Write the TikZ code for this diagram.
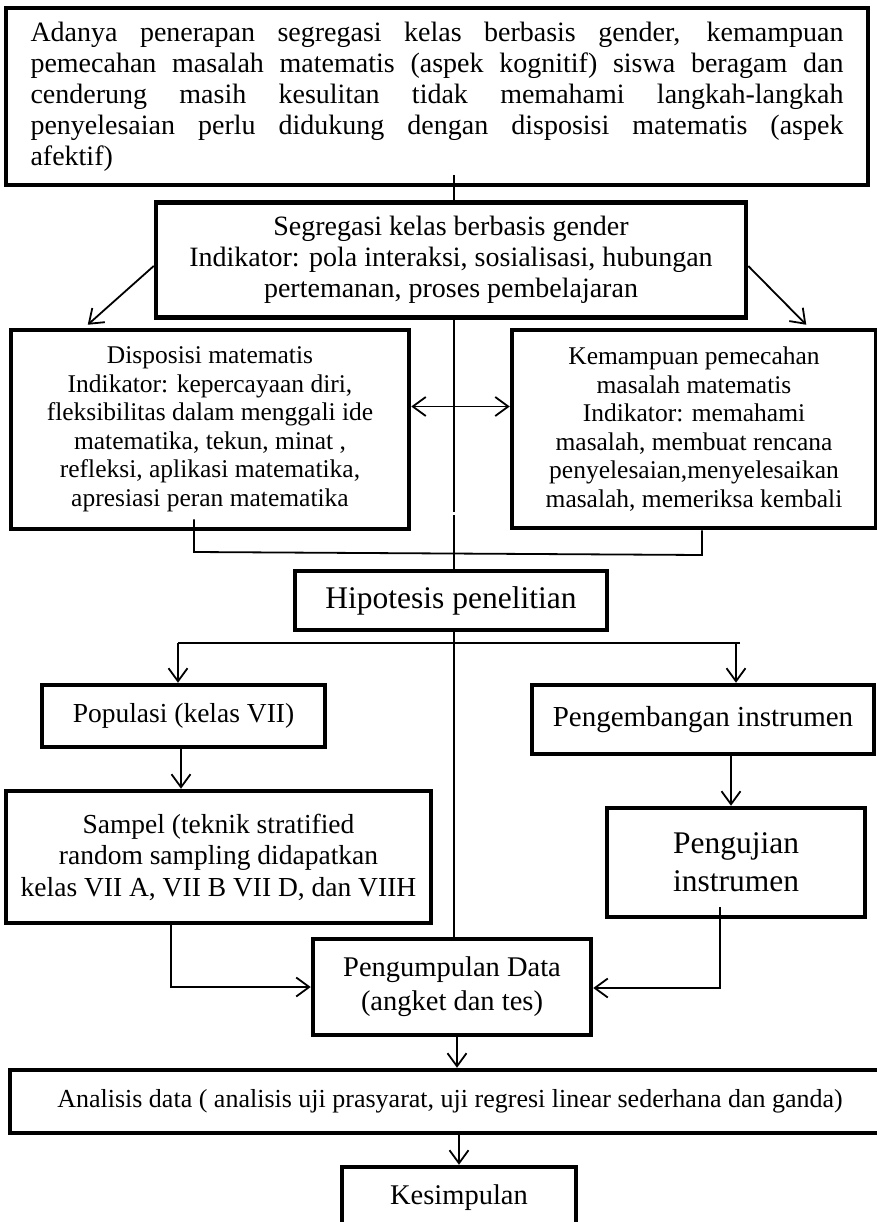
\documentclass[tikz,border=0pt]{standalone}
\usepackage{fontspec}
\setmainfont{Liberation Serif}
\usetikzlibrary{positioning, arrows.meta}

\begin{document}
\begin{tikzpicture}[
        x=1pt, y=-1pt,
        % Styles
        box/.style={% For the thick boxes
            rectangle,
            draw,
            line width=4.5pt,
            inner sep=0pt,
            align=center,
            },
        conn/.style={% Plain connecting lines
            line width=1.8pt,
            },
        arr/.style={% Open arrow heads
            conn,
            -{Straight Barb[length=13pt, width=19pt, line width=1.8pt]},
            },
        arrboth/.style={% Double arrow
            conn,
            {Straight Barb[length=13pt, width=19pt, line width=1.8pt]}-{Straight Barb[length=13pt, width=19pt, line width=1.8pt]},
            },
        big/.style={font=\fontsize{28.5}{31}\selectfont},
        mid/.style={font=\fontsize{28}{31}\selectfont},
        small/.style={font=\fontsize{25.5}{28.5}\selectfont},
        ]
    \useasboundingbox (0,0) rectangle (877,1222);
    \clip (0,0) rectangle (877,1222);

    % Nodes
        % Background problem
        \node [box, font=\fontsize{28}{31}\selectfont, align=justify, text width=813pt, minimum width=862pt, minimum height=177pt] (latar) at (437,96.5)
            {Adanya penerapan segregasi kelas berbasis gender, kemampuan\linebreak
             pemecahan masalah matematis (aspek kognitif) siswa beragam dan\linebreak
             cenderung masih kesulitan tidak memahami langkah-langkah\linebreak
             penyelesaian perlu didukung dengan disposisi matematis (aspek\linebreak
             afektif)};

        % Variables
        \node [box, mid, minimum width=590pt, minimum height=115pt] (segregasi) at (451,260)
            {Segregasi kelas berbasis gender\\Indikator: pola interaksi, sosialisasi, hubungan\\pertemanan, proses pembelajaran};
        \node [box, small, minimum width=398pt, minimum height=199pt] (disposisi) at (210,429.5)
            {Disposisi matematis\\Indikator: kepercayaan diri,\\fleksibilitas dalam menggali ide\\matematika, tekun, minat ,\\refleksi, aplikasi matematika,\\apresiasi peran matematika};
        \node [box, small, minimum width=364pt, minimum height=198pt] (kemampuan) at (694,429)
            {Kemampuan pemecahan\\masalah matematis\\Indikator: memahami\\masalah, membuat rencana\\penyelesaian,menyelesaikan\\masalah, memeriksa kembali};

        \node [box, font=\fontsize{31.5}{34}\selectfont, minimum width=312pt, minimum height=59pt] (hipotesis) at (451,600.5) {Hipotesis penelitian};

        % Two branches
        \node [box, font=\fontsize{27.5}{31}\selectfont, minimum width=283pt, minimum height=62pt] (populasi) at (183.5,716) {Populasi (kelas VII)};
        \node [box, font=\fontsize{29}{31}\selectfont, minimum width=342pt, minimum height=69pt] (pengembangan) at (703,719.5) {Pengembangan instrumen};
        \node [box, font=\fontsize{27.5}{31.5}\selectfont, minimum width=425pt, minimum height=132pt] (sampel) at (218.5,857)
            {Sampel (teknik stratified\\random sampling didapatkan\\kelas VII A, VII B VII D, dan VIIH};
        \node [box, font=\fontsize{31.5}{38}\selectfont, minimum width=258pt, minimum height=109pt] (pengujian) at (736,862.5) {Pengujian\\instrumen};

        % Data and result
        \node [box, font=\fontsize{28.5}{34}\selectfont, minimum width=278pt, minimum height=96pt] (pengumpulan) at (452,987) {Pengumpulan Data\\(angket dan tes)};
        \node [box, font=\fontsize{26}{28}\selectfont, minimum width=880pt, minimum height=63pt] (analisis) at (450,1101.5)
            {Analisis data ( analisis uji prasyarat, uji regresi linear sederhana dan ganda)};
        \node [box, big, minimum width=234pt, minimum height=62pt] (kesimpulan) at (459,1198) {Kesimpulan};

    % Coordinates for the line corners
        \coordinate (spineA) at (454,175);
        \coordinate (spineB) at (454,512);
        \coordinate (spineC) at (454,515);
        \coordinate (joinL) at (194,552);
        \coordinate (joinR) at (702,555);
        \coordinate (forkL) at (178,643);
        \coordinate (forkR) at (736,643);
        \coordinate (sampelTurn) at (171,987);
        \coordinate (ujiTurn) at (720,988);

    % Connections
        % Middle line
        \draw [conn] (spineA) -- (spineA |- segregasi.north);
        \draw [conn] (spineA |- segregasi.south) -- (spineB);
        \draw [conn] (spineC) -- (spineC |- hipotesis.north);
        \draw [conn] (spineC |- hipotesis.south) -- (spineC |- pengumpulan.north);

        % Variables
        \draw [arr] (segregasi.west) ++(0,6) -- ([xshift=79pt, yshift=3pt]disposisi.north west);
        \draw [arr] (segregasi.east) ++(0,6) -- ([xshift=-72pt, yshift=3pt]kemampuan.north east);
        \draw [arrboth] ([yshift=23pt]disposisi.east) -- ([yshift=23pt]disposisi.east -| kemampuan.west);
        \draw [conn] ([yshift=12pt]joinL |- disposisi.south) -- (joinL) -- (joinR) -- (joinR |- kemampuan.south);

        % Fork under the hypothesis
        \draw [conn] (forkL) -- ([xshift=4pt]forkR);
        \draw [arr] (forkL) -- (forkL |- populasi.north);
        \draw [arr] (forkR) -- (forkR |- pengembangan.north);
        \draw [arr] ([xshift=-2.5pt]populasi.south) -- ([xshift=-2.5pt]populasi.south |- sampel.north);
        \draw [arr] ([xshift=-5pt]pengujian.north |- pengembangan.south) -- ([xshift=-5pt]pengujian.north);

        % Into the data collection
        \draw [arr] (sampelTurn |- sampel.south) -- (sampelTurn) -- (pengumpulan.west |- sampelTurn);
        \draw [arr] ([yshift=12pt]ujiTurn |- pengujian.south) -- (ujiTurn) -- (pengumpulan.east |- ujiTurn);
        \draw [arr] ([xshift=5pt]pengumpulan.south) -- ([xshift=5pt]pengumpulan.south |- analisis.north);
        \draw [arr] (kesimpulan.north |- analisis.south) -- (kesimpulan.north);

\end{tikzpicture}
\end{document}
